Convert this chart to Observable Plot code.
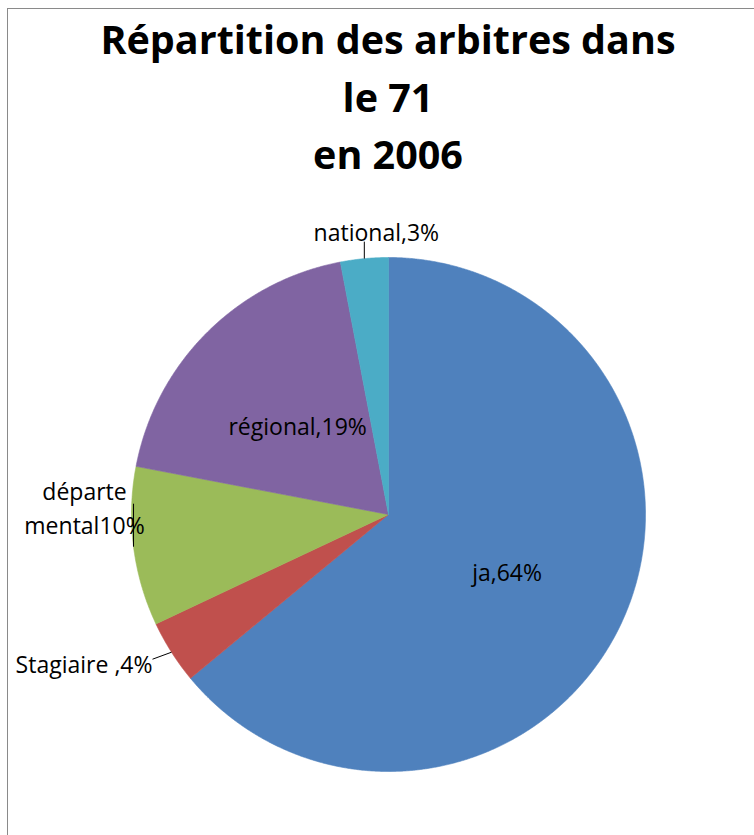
<!DOCTYPE html>
<html>
<head>
<meta charset="utf-8">
<script src="https://cdn.jsdelivr.net/npm/d3@7"></script>
<script src="https://cdn.jsdelivr.net/npm/@observablehq/plot@0.6"></script>
<style>
  html, body { margin: 0; padding: 0; background: #fff; width: 754px; height: 835px; overflow: hidden; }
  #frame { position: absolute; left: 7px; top: 8px; right: -2px; bottom: -2px;
           border-top: 1px solid #8a8a8a; border-left: 1px solid #8a8a8a; }
  #title { position: absolute; left: 0; top: 11px; width: 776px; text-align: center;
           font-family: "Open Sans", sans-serif; font-weight: 700; font-size: 39.5px;
           line-height: 57.5px; color: #000; }
  #chart { position: absolute; left: 0; top: 200px; }
</style>
</head>
<body>
<div id="frame"></div>
<div id="title"></div>
<div id="chart"></div>
<script>
// ---- data ----
const categories = ["ja", "Stagiaire ", "départemental", "régional", "national"];
const shares = [64, 4, 10, 19, 3];
const labelTexts = ["ja,64%", "Stagiaire ,4%", "départe\nmental10%", "régional,19%", "national,3%"];
const titleLines = ["Répartition des arbitres dans", "le 71", "en 2006"];

// ---- styles / layout (not data) ----
const palette = ["#4F81BD", "#C0504D", "#9BBB59", "#8064A2", "#4BACC6"];
const radiusPx = 257;
const labelLayout = [
  {r: 0.51, dx: 0,   dy: 0,   anchor: "middle"},
  {r: 1,    dx: -19, dy: 10,  anchor: "end",    leader: [-19, 7]},
  {r: 1,    dx: -49, dy: -41, anchor: "middle", leader: [0, -43]},
  {r: 0.5,  dx: 0,   dy: 0,   anchor: "middle"},
  {r: 1,    dx: 12,  dy: -29, anchor: "middle", leader: [0, -17]}
];

document.getElementById("title").innerHTML = titleLines.map(t => `<div>${t}</div>`).join("");

const table = categories.map((c, i) => ({category: c, value: shares[i], label: labelTexts[i], layout: labelLayout[i]}));
const arcs = d3.pie().sort(null).value(d => d.value)(table);

// slice outlines (angles clockwise from 12 o'clock, y up)
const step = Math.PI / 720;
const slicePts = [];
arcs.forEach(a => {
  slicePts.push({category: a.data.category, x: 0, y: 0});
  const n = Math.max(2, Math.ceil((a.endAngle - a.startAngle) / step));
  for (let k = 0; k <= n; k++) {
    const t = a.startAngle + (a.endAngle - a.startAngle) * k / n;
    slicePts.push({category: a.data.category, x: Math.sin(t), y: Math.cos(t)});
  }
  slicePts.push({category: a.data.category, x: 0, y: 0});
});

const labelPts = arcs.map(a => {
  const m = (a.startAngle + a.endAngle) / 2;
  const L = a.data.layout;
  return {label: a.data.label, x: L.r * Math.sin(m), y: L.r * Math.cos(m), dx: L.dx, dy: L.dy, anchor: L.anchor,
          leader: L.leader, ex: Math.sin(m), ey: Math.cos(m)};
});
const leaders = labelPts.filter(d => d.leader).map(d => ({
  x1: d.ex, y1: d.ey,
  x2: d.ex + d.leader[0] / radiusPx, y2: d.ey - d.leader[1] / radiusPx
}));

// per-label pixel offsets applied by individual text marks
const labelMarks = labelPts.map(d =>
  Plot.text([d], {
    x: "x", y: "y", text: "label", dx: d.dx, dy: d.dy, textAnchor: d.anchor,
    fontSize: 23, fontFamily: "Open Sans", fill: "#000", lineHeight: 1.5
  })
);

const chart = Plot.plot({
  width: 754, height: 635,
  marginLeft: 131, marginRight: 109, marginTop: 57, marginBottom: 64,
  x: {domain: [-1, 1], axis: null},
  y: {domain: [-1, 1], axis: null},
  color: {domain: categories, range: palette},
  style: {background: "transparent", overflow: "visible"},
  marks: [
    Plot.line(slicePts, {x: "x", y: "y", z: "category", fill: "category", stroke: "category", strokeWidth: 0.6, curve: "linear"}),
    Plot.link(leaders, {x1: "x1", y1: "y1", x2: "x2", y2: "y2", stroke: "#000", strokeWidth: 1}),
    ...labelMarks
  ]
});
document.getElementById("chart").appendChild(chart);
</script>
</body>
</html>
